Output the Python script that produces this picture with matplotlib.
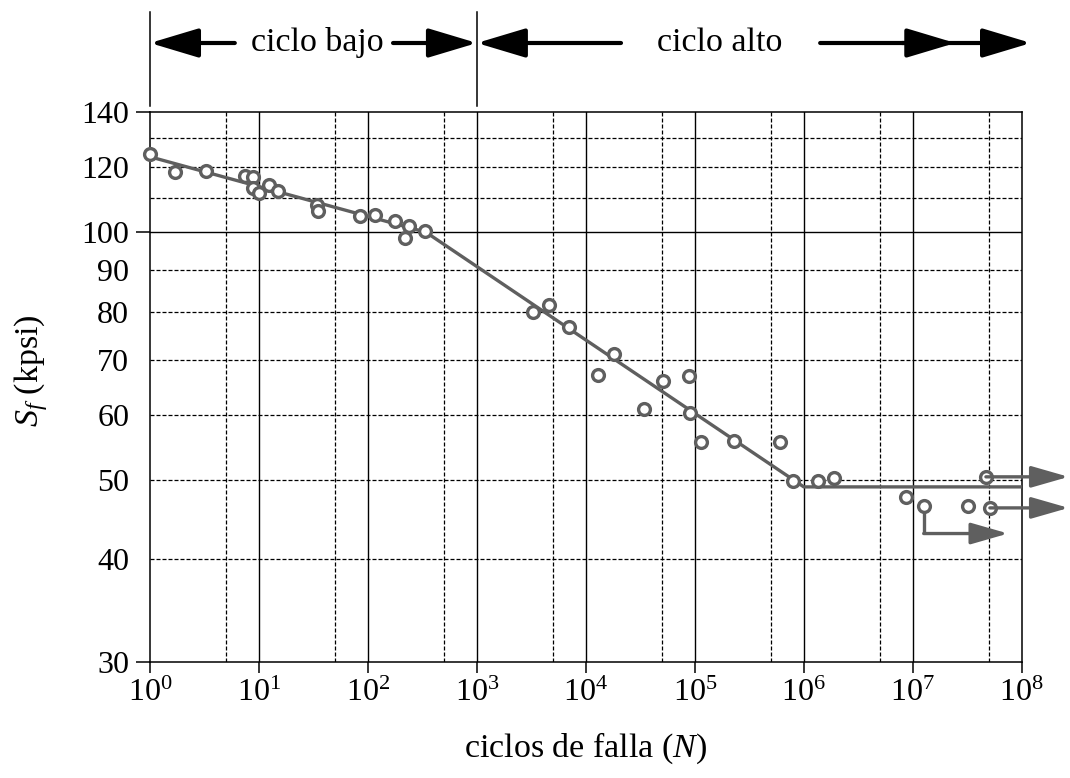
import numpy as np
import matplotlib
matplotlib.use("Agg")
import matplotlib.pyplot as plt
import matplotlib.transforms as mtransforms
from matplotlib.ticker import FixedLocator, NullLocator, LogFormatterSciNotation, FixedFormatter

plt.rcParams["font.family"] = ["Liberation Serif", "DejaVu Serif"]
plt.rcParams["mathtext.fontset"] = "custom"
plt.rcParams["mathtext.rm"] = "Liberation Serif"
plt.rcParams["mathtext.it"] = "Liberation Serif:italic"

# test points: cycles to failure N, strength Sf (kpsi)
N_pts = [1.0, 1.7, 3.25, 7.5, 8.8, 8.9, 10.1, 12.3, 14.8, 34, 35, 84, 117, 177, 236, 220, 335,
         3.27e3, 4.55e3, 7.0e3, 13.0e3, 18.2e3, 34.3e3, 51.5e3, 88e3, 90e3,
         115e3, 227e3, 603e3, 790e3, 1.36e6, 1.88e6,
         8.7e6, 12.6e6, 32.2e6, 46.9e6, 51e6]
S_pts = [124.5, 118.2, 118.6, 117.0, 116.7, 113.1, 111.7, 114.2, 112.2, 108.0, 106.1, 104.7, 104.8, 103.2, 101.8, 98.5, 100.2,
         80.0, 81.5, 76.6, 67.1, 71.0, 60.9, 66.0, 66.8, 60.2,
         55.6, 55.7, 55.6, 49.8, 49.8, 50.3,
         47.6, 46.5, 46.5, 50.4, 46.2]

# fitted S-N curve (piecewise)
curve_N = [1, 340, 1e6, 1e8]
curve_S = [123.5, 100.0, 49.0, 49.0]

# run-out arrows: start N, start S, corner S, tip N
runout_N0 = [46.9e6, 51e6, 12.6e6]
runout_S0 = [50.4, 46.2, 46.5]
runout_S1 = [50.4, 46.2, 43.0]
runout_N1 = [10**8.43, 10**8.43, 7.5e7]

decades = [1e0, 1e1, 1e2, 1e3, 1e4, 1e5, 1e6, 1e7, 1e8]
half_decades = [5e0, 5e1, 5e2, 5e3, 5e4, 5e5, 5e6, 5e7]
y_major = [30, 100, 140]
y_minor = [40, 50, 60, 70, 80, 90, 120]
y_dashed = [40, 50, 60, 70, 80, 90, 110, 120, 130]

gray = "#5f5f5f"
dash = (0, (3.2, 1.6))
fs_tick = 23
fs_lab = 24.5

fig = plt.figure(figsize=(10.7, 7.78), dpi=100)
ax = fig.add_axes([0.1402, 0.149, 0.8147, 0.707])
ax.set_xscale("log")
ax.set_yscale("log")
ax.set_xlim(1, 1e8)
ax.set_ylim(30, 140)

# grid
for x in decades[1:-1]:
    ax.axvline(x, color="black", lw=1.0, zorder=1)
for x in half_decades:
    ax.axvline(x, color="black", lw=0.9, ls=dash, zorder=1)
for y in y_dashed:
    ax.axhline(y, color="black", lw=0.9, ls=dash, zorder=1)
ax.axhline(100, color="black", lw=1.0, zorder=1)

# curve and points
ax.plot(curve_N, curve_S, color=gray, lw=2.4, zorder=3, solid_capstyle="butt")
ax.plot(N_pts, S_pts, "o", ms=8.5, mfc="white", mec=gray, mew=2.4, zorder=4, clip_on=False)

for n0, s0, s1, n1 in zip(runout_N0, runout_S0, runout_S1, runout_N1):
    if s1 != s0:
        ax.plot([n0, n0], [s0, s1], color=gray, lw=2.4, zorder=3, solid_capstyle="butt")
    ax.annotate("", xy=(n1, s1), xytext=(n0, s1), annotation_clip=False, zorder=5,
                arrowprops=dict(arrowstyle="-|>,head_length=1.15,head_width=0.33",
                                mutation_scale=20, color=gray, lw=2.4,
                                shrinkA=0, shrinkB=0))

# axes styling
for sp in ax.spines.values():
    sp.set_linewidth(1.1)
ax.xaxis.set_major_locator(FixedLocator(decades))
ax.xaxis.set_minor_locator(NullLocator())
ax.xaxis.set_major_formatter(LogFormatterSciNotation())
ax.tick_params(axis="x", which="major", length=8, width=1.1, pad=4, labelsize=fs_tick, direction="out")

ax.yaxis.set_major_locator(FixedLocator(y_major))
ax.yaxis.set_major_formatter(FixedFormatter([str(v) for v in y_major]))
ax.yaxis.set_minor_locator(FixedLocator(y_minor))
ax.yaxis.set_minor_formatter(FixedFormatter([str(v) for v in y_minor]))
ax.tick_params(axis="y", which="major", length=10, width=1.1, pad=5, labelsize=fs_tick, direction="out")
ax.tick_params(axis="y", which="minor", length=0, pad=15, labelsize=fs_tick)

ax.set_xlabel("ciclos de falla ($N$)", fontsize=fs_lab)
ax.set_ylabel("$S_f$ (kpsi)", fontsize=fs_lab)
ax.xaxis.set_label_coords(0.5, -0.125)
ax.yaxis.set_label_coords(-0.115, 0.53)

# low / high cycle band above the plot
tr = mtransforms.blended_transform_factory(ax.transData, fig.transFigure)
y_arr = 1 - 43 / 778
for x in [1, 1e3]:
    ax.plot([x, x], [1 - 12 / 778, 1 - 106 / 778], color="black", lw=1.1,
            transform=tr, clip_on=False)

head = dict(arrowstyle="-|>,head_length=1.5,head_width=0.45", mutation_scale=20,
            color="black", lw=3.0, shrinkA=0, shrinkB=0)
band_arrows = [((1, y_arr), (6.0, y_arr)), ((1e3, y_arr), (170, y_arr)),
               ((1e3, y_arr), (2.1e4, y_arr)), ((10**8.085, y_arr), (10**6.15, y_arr)),
               ((10**7.39, y_arr), (10**6.9, y_arr))]
for tip, tail in band_arrows:
    ax.annotate("", xy=tip, xycoords=tr, xytext=tail, textcoords=tr,
                annotation_clip=False, arrowprops=head)
ax.text(34, y_arr, "ciclo bajo", transform=tr, ha="center", va="center", fontsize=fs_lab)
ax.text(10**5.23, y_arr, "ciclo alto", transform=tr, ha="center", va="center", fontsize=fs_lab)

fig.savefig("out.png", dpi=100)
